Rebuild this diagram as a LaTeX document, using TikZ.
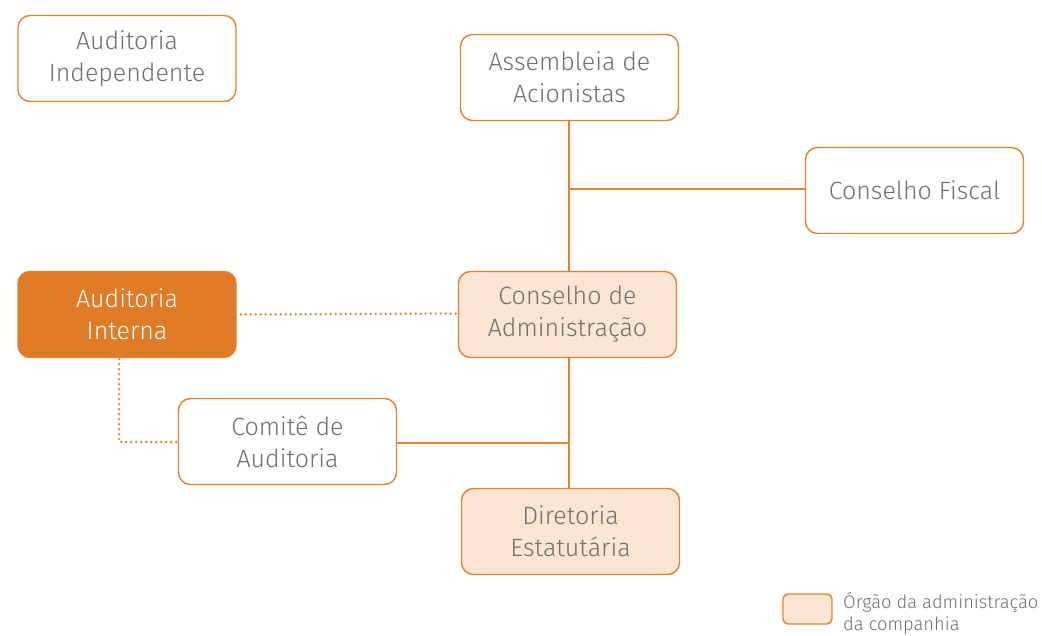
\documentclass[tikz,border=0pt]{standalone}
\usepackage{fontspec}
\setmainfont{Fira Sans}[UprightFont=* Light]
\definecolor{org}{HTML}{E5822F}
\definecolor{orgfill}{HTML}{E07B28}
\definecolor{peach}{HTML}{FBE5D3}
\definecolor{txt}{HTML}{707070}
\tikzset{
  box/.style={draw=org, line width=1.4pt, rounded corners=12pt, fill=white,
    minimum width=218pt, minimum height=86pt, align=center, text=txt,
    font=\fontsize{25}{32}\selectfont, inner sep=0pt},
  admbox/.style={box, fill=peach},
  hotbox/.style={box, fill=orgfill, text=white},
  link/.style={draw=org, line width=1.3pt},
  dotlink/.style={draw=org, line width=2.6pt, line cap=round, dash pattern=on 0pt off 5pt},
}
\begin{document}
\begin{tikzpicture}[x=1pt,y=-1pt]
\useasboundingbox (0,0) rectangle (1042,636);
\node[box] (ai) at (127,58.5) {Auditoria\\Independente};
\node[box] (aa) at (569.5,77.5) {Assembleia de\\Acionistas};
\node[box] (cf) at (914.5,190.5) {Conselho Fiscal};
\node[hotbox] (aint) at (127,314.5) {Auditoria\\Interna};
\node[admbox] (ca) at (567.5,314.5) {Conselho de\\Administração};
\node[box] (ct) at (287.5,441.5) {Comitê de\\Auditoria};
\node[admbox] (de) at (570.5,531.5) {Diretoria\\Estatutária};
\coordinate (j1) at (569,189);
\coordinate (j2) at (569,443);
\coordinate (k1) at (119,442);
\draw[link] (aa.south -| j1) -- (ca.north -| j1);
\draw[link] (j1) -- (cf.west |- j1);
\draw[link] (ca.south -| j2) -- (de.north -| j2);
\draw[link] (ct.east |- j2) -- (j2);
\draw[dotlink] ([xshift=4pt]aint.east) -- ([yshift=1pt]ca.west);
\draw[dotlink] ([yshift=4pt]aint.south -| k1) -- (k1) -- (ct.west |- k1);
\node[draw=org, line width=1.4pt, fill=peach, rounded corners=5pt, minimum width=49pt, minimum height=30pt, inner sep=0pt] (lg) at (807.5,609) {};
\node[anchor=north west, align=left, text=txt, font=\fontsize{18.3}{22}\selectfont, inner sep=0pt] (lt) at (843,592) {Órgão da administração\\da companhia};
\end{tikzpicture}
\end{document}
